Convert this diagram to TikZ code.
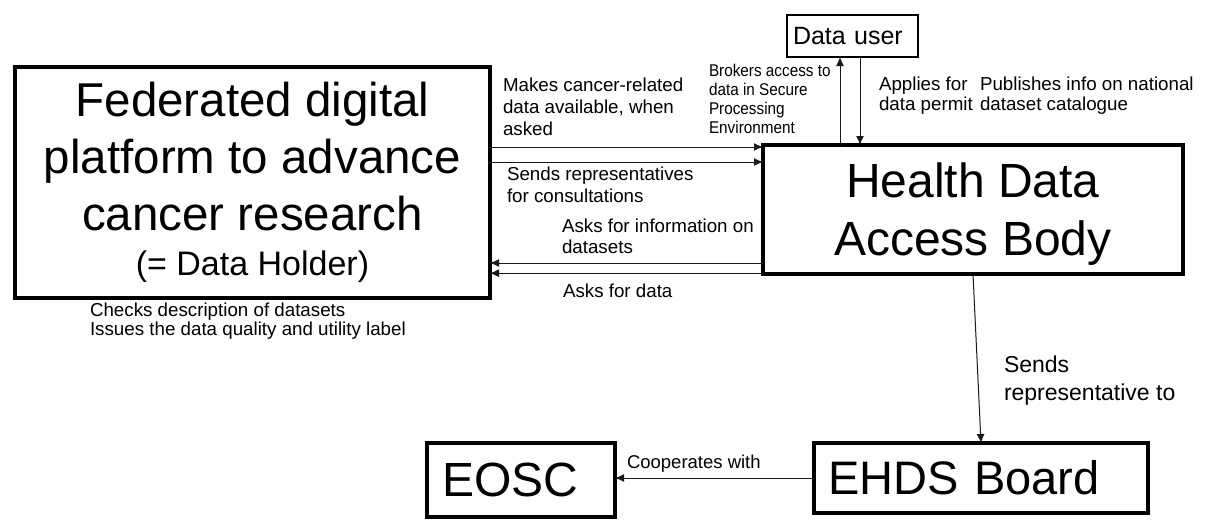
\documentclass[tikz,border=0pt]{standalone}
\usepackage{fontspec}
\setmainfont{Liberation Sans}
\newfontfamily\narrowfont[FakeStretch=0.9]{Liberation Sans}
\usetikzlibrary{arrows.meta}
\definecolor{bg}{RGB}{252,255,252}
\tikzset{
  bigbox/.style={draw=black, line width=3.3pt, inner sep=0pt, outer sep=0pt, rectangle},
  userbox/.style={draw=black, line width=1.4pt, inner sep=0pt, outer sep=0pt, rectangle},
  lbl/.style={anchor=base west, align=left, inner sep=0pt, outer sep=0pt},
  arr/.style={draw=black!90, line width=1pt, -{Latex[length=9pt,width=8pt]}},
}
\begin{document}
\begin{tikzpicture}[x=1pt,y=-1pt]
\fill[bg] (0,0) rectangle (1210,528);
\useasboundingbox (0,0) rectangle (1210,528);

% boxes
\node[bigbox, minimum width=475pt, minimum height=231pt, align=center,
      font=\fontsize{47.5}{57}\selectfont] (fed) at (252.5,182.5)
  {Federated digital\\platform to advance\\cancer research\\[-12pt]{\fontsize{34}{40}\selectfont (= Data Holder)}};
\node[bigbox, minimum width=420pt, minimum height=129pt, align=center, text depth=0pt,
      font=\fontsize{48}{58}\selectfont] (hdab) at (973,209.5) {Health Data\\Access Body};
\node[userbox, minimum width=131pt, minimum height=42pt, inner xsep=6pt, text width=119pt, align=left,
      font=\fontsize{25}{30}\selectfont] (user) at (852.5,36) {Data user};
\node[bigbox, minimum height=70pt, inner xsep=14pt, text width=306pt, align=left,
      font=\fontsize{47}{56}\selectfont] (ehds) at (981,478) {EHDS Board};
\node[bigbox, minimum height=74pt, inner xsep=15pt, text width=158pt, align=left,
      font=\fontsize{48}{56}\selectfont] (eosc) at (521,480) {EOSC};

% labels (anchored at the baseline of their last line)
\node[lbl, font=\fontsize{18.75}{22}\selectfont] (l1) at (503,135) {Makes cancer-related\\data available, when\\asked};
\node[lbl, font=\narrowfont\fontsize{17}{18.7}\selectfont] (l2) at (709,133) {Brokers access to\\data in Secure\\Processing\\Environment};
\node[lbl, font=\fontsize{18.75}{20}\selectfont] (l3) at (879,110) {Applies for\\data permit};
\node[lbl, font=\fontsize{18.75}{20}\selectfont] (l4) at (980,110) {Publishes info on national\\dataset catalogue};
\node[lbl, font=\fontsize{18.75}{22}\selectfont] (l5) at (507,202) {Sends representatives\\for consultations};
\node[lbl, font=\fontsize{18.75}{21}\selectfont] (l6) at (562,253) {Asks for information on\\datasets};
\node[lbl, font=\fontsize{18.75}{21}\selectfont] (l7) at (563,297) {Asks for data};
\node[lbl, font=\fontsize{18.75}{18.3}\selectfont] (l8) at (90,335) {Checks description of datasets\\Issues the data quality and utility label};
\node[lbl, font=\fontsize{23}{28}\selectfont] (l9) at (1004,400) {Sends\\representative to};
\node[lbl, font=\fontsize{18.5}{22}\selectfont] (l10) at (627,468) {Cooperates with};

% connectors
\draw[arr] ([yshift=35.5pt]fed.east) -- ([yshift=35.5pt]fed.east -| hdab.west);
\draw[arr] ([yshift=20.5pt]fed.east) -- ([yshift=20.5pt]fed.east -| hdab.west);
\draw[arr] ([yshift=-53.5pt]hdab.west) -- ([yshift=-53.5pt]hdab.west -| fed.east);
\draw[arr] ([yshift=0.8pt]hdab.south west) -- ([yshift=0.8pt]hdab.south west -| fed.east);
\draw[arr] ([xshift=-12.5pt]user.south |- hdab.north) -- ([xshift=-12.5pt]user.south);
\draw[arr] ([xshift=7.5pt]user.south) -- ([xshift=7.5pt]user.south |- hdab.north);
\draw[arr] (hdab.south) -- (ehds.north);
\draw[arr] (ehds.west) -- (ehds.west -| eosc.east);
\end{tikzpicture}
\end{document}
